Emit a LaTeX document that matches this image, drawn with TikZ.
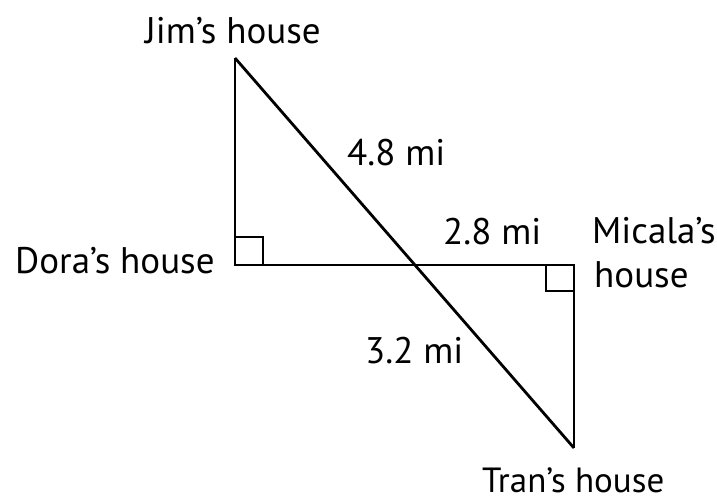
\documentclass[tikz,border=0pt]{standalone}
\usepackage{fontspec}
\setmainfont{PT Sans}
\begin{document}
\begin{tikzpicture}[x=1pt,y=-1pt,
  lbl/.style={anchor=base west,inner sep=0pt,font=\fontsize{37}{44}\selectfont},
  edge/.style={line width=2.8pt,line join=miter},
  rightangle/.style={line width=1.8pt}]
\useasboundingbox (0,0) rectangle (717,501);
\coordinate (J) at (235,58);
\coordinate (D) at (235,265);
\coordinate (M) at (574,265);
\coordinate (T) at (574,448);
\draw[edge] (J) -- (D) -- (M) -- (T);
\draw[edge] (J) -- (T);
\draw[rightangle] ([yshift=28pt]D) -- ++(28,0) -- ++(0,28);
\draw[rightangle] ([xshift=-28pt]M) -- ++(0,26) -- ++(28,0);
\node[lbl] (jim) at (145,43) {Jim’s house};
\node[lbl] (dora) at (15,273) {Dora’s house};
\node[lbl] (mic1) at (592,243) {Micala’s};
\node[lbl] (mic2) at (594,287) {house};
\node[lbl,font=\fontsize{35}{42}\selectfont] (tran) at (482,492) {Tran’s house};
\node[lbl] (d48) at (347,165) {4.8 mi};
\node[lbl] (d28) at (443,244) {2.8 mi};
\node[lbl] (d32) at (365,363) {3.2 mi};
\end{tikzpicture}
\end{document}
